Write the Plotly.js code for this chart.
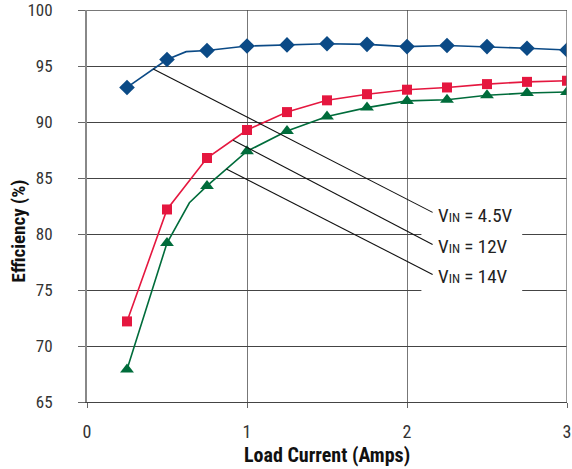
<!DOCTYPE html>
<html><head><meta charset="utf-8">
<script src="https://cdn.plot.ly/plotly-3.0.1.min.js"></script>
<style>html,body{margin:0;padding:0;background:#fff}#chart{width:572px;height:469px}</style>
</head><body><div id="chart"></div>
<script>
// Data
const loadCurrent = [0.25, 0.5, 0.75, 1.0, 1.25, 1.5, 1.75, 2.0, 2.25, 2.5, 2.75, 3.0];
const eff45 = [93.1, 95.6, 96.4, 96.8, 96.9, 97.0, 96.95, 96.75, 96.85, 96.75, 96.6, 96.45];
const eff12 = [72.2, 82.2, 86.8, 89.3, 90.9, 91.95, 92.5, 92.9, 93.1, 93.4, 93.6, 93.7];
const eff14 = [67.9, 79.2, 84.3, 87.4, 89.2, 90.5, 91.3, 91.9, 92.0, 92.4, 92.6, 92.7];
// unmarked knee points on the drawn curves
const knee45X = [0.62], knee45Y = [96.3];
const knee14X = [0.64], knee14Y = [82.8];
const seriesNames = ['VIN = 4.5V', 'VIN = 12V', 'VIN = 14V'];
const yTicks = [65, 70, 75, 80, 85, 90, 95, 100];
const xTicks = [0, 1, 2, 3];

function merge(xs, ys, kx, ky) {
  const pts = xs.map((x, i) => [x, ys[i]]).concat(kx.map((x, i) => [x, ky[i]]));
  pts.sort((a, b) => a[0] - b[0]);
  return {x: pts.map(p => p[0]), y: pts.map(p => p[1])};
}
const FONT = '"Roboto Condensed", Roboto, "Liberation Sans Narrow", sans-serif';
const BLUE = '#0b4a86', RED = '#e5173f', GREEN = '#006c3b';

const l45 = merge(loadCurrent, eff45, knee45X, knee45Y);
const l12 = merge(loadCurrent, eff12, [], []);
const l14 = merge(loadCurrent, eff14, knee14X, knee14Y);

const traces = [
  {x: l45.x, y: l45.y, mode: 'lines', line: {color: BLUE, width: 1.6}, hoverinfo: 'skip', name: seriesNames[0]},
  {x: loadCurrent, y: eff45, mode: 'markers', marker: {symbol: 'diamond', size: 12, color: BLUE}, name: seriesNames[0]},
  {x: l12.x, y: l12.y, mode: 'lines', line: {color: RED, width: 1.6}, hoverinfo: 'skip', name: seriesNames[1]},
  {x: loadCurrent, y: eff12, mode: 'markers', marker: {symbol: 'square', size: 10, color: RED}, name: seriesNames[1]},
  {x: l14.x, y: l14.y, mode: 'lines', line: {color: GREEN, width: 1.6}, hoverinfo: 'skip', name: seriesNames[2]},
  {x: loadCurrent, y: eff14, mode: 'markers', marker: {symbol: 'triangle-up', size: 12, color: GREEN}, name: seriesNames[2]}
];

function lbl(s) { return s.replace('VIN', 'V<span style="font-size:13px">IN</span>'); }

const layout = {
  width: 572, height: 469,
  margin: {l: 87, r: 5, t: 10, b: 67},
  showlegend: false,
  plot_bgcolor: '#fff', paper_bgcolor: '#fff',
  font: {family: FONT, size: 17, color: '#333'},
  xaxis: {
    range: [0, 3], tickvals: xTicks, ticks: 'outside', ticklen: 5, tickcolor: '#666',
    showgrid: true, gridcolor: '#777', gridwidth: 1, zeroline: false,
    showline: true, linecolor: '#444', linewidth: 1, mirror: false,
    ticklabelstandoff: 8, tickfont: {size: 18, color: '#333', family: FONT}
  },
  yaxis: {
    range: [65, 100.02], tickvals: yTicks, ticks: 'outside', ticklen: 7, tickcolor: '#666',
    showgrid: true, gridcolor: '#444', gridwidth: 1, zeroline: false,
    showline: true, linecolor: '#888', linewidth: 2,
    ticklabelstandoff: 22, tickfont: {size: 17, color: '#333', family: FONT}
  },
  shapes: [
    {type: 'line', xref: 'x', yref: 'y', x0: 3, x1: 3, y0: 65, y1: 100, line: {color: '#777', width: 1.5}},
    {type: 'line', xref: 'x', yref: 'y', x0: 0, x1: 3, y0: 100, y1: 100, line: {color: '#444', width: 1}},
    {type: 'rect', xref: 'x', yref: 'y', x0: 2.09, x1: 2.72, y0: 74.6, y1: 83.4, fillcolor: '#fff', line: {width: 0}, layer: 'between'},
    {type: 'line', xref: 'x', yref: 'y', x0: 0.414, y0: 94.75, x1: 2.16, y1: 81.94, line: {color: '#111', width: 1.1}},
    {type: 'line', xref: 'x', yref: 'y', x0: 0.913, y0: 88.39, x1: 2.16, y1: 79.07, line: {color: '#111', width: 1.1}},
    {type: 'line', xref: 'x', yref: 'y', x0: 0.871, y0: 85.82, x1: 2.16, y1: 76.40, line: {color: '#111', width: 1.1}}
  ],
  annotations: [
    {x: 2.18, y: 81.7, xref: 'x', yref: 'y', xanchor: 'left', yanchor: 'middle', showarrow: false, text: lbl(seriesNames[0]), font: {size: 19, color: '#222', family: FONT}},
    {x: 2.18, y: 78.85, xref: 'x', yref: 'y', xanchor: 'left', yanchor: 'middle', showarrow: false, text: lbl(seriesNames[1]), font: {size: 19, color: '#222', family: FONT}},
    {x: 2.18, y: 76.2, xref: 'x', yref: 'y', xanchor: 'left', yanchor: 'middle', showarrow: false, text: lbl(seriesNames[2]), font: {size: 19, color: '#222', family: FONT}},
    {x: -0.143, y: 0.436, xref: 'paper', yref: 'paper', textangle: -90, showarrow: false, xanchor: 'center', yanchor: 'middle',
     text: '<b>Efficiency (%)</b>', font: {size: 19, color: '#111', family: FONT}},
    {x: 0.5, y: -0.135, xref: 'paper', yref: 'paper', showarrow: false, xanchor: 'center', yanchor: 'middle',
     text: '<b>Load Current (Amps)</b>', font: {size: 20, color: '#111', family: FONT}}
  ]
};
Plotly.newPlot('chart', traces, layout, {displayModeBar: false, staticPlot: true});
</script></body></html>
